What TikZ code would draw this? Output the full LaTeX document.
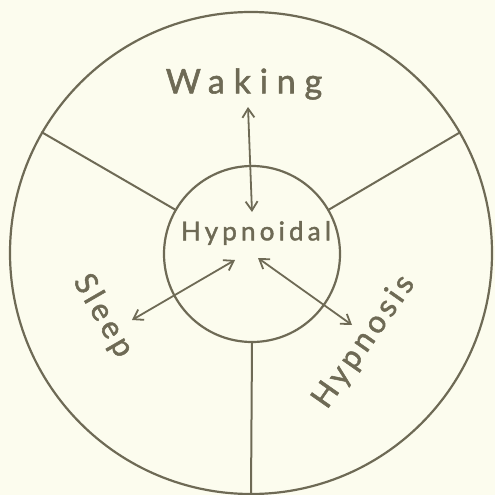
\documentclass[tikz,border=0pt]{standalone}
\usepackage{fontspec}
\usetikzlibrary{arrows.meta}
\newfontfamily\handA[LetterSpace=13,FakeBold=1.6]{Lato}
\newfontfamily\handB[LetterSpace=26,FakeBold=1.6]{Lato}
\newfontfamily\handC[LetterSpace=16,FakeBold=1.6]{Lato}
\definecolor{ink}{HTML}{6E6A55}
\definecolor{paper}{HTML}{FCFCEE}
\tikzset{
  ring/.style={circle,draw=ink,line width=2.2pt,inner sep=0pt},
  spoke/.style={draw=ink,line width=2pt},
  link/.style={draw=ink,line width=1.8pt,{Straight Barb[length=9pt,width=12pt,line width=1.8pt]}-{Straight Barb[length=9pt,width=12pt,line width=1.8pt]}},
  word/.style={text=ink,inner sep=0pt}
}
\begin{document}
\begin{tikzpicture}[x=1pt,y=-1pt]
\fill[paper] (0,0) rectangle (495,495);
\useasboundingbox (0,0) rectangle (495,495);
\node[ring,minimum size=482pt] (outer) at (251,253) {};
\node[ring,minimum size=176pt] (inner) at (252,254) {};
\draw[spoke] (inner.150) -- (outer.150);
\draw[spoke] (inner.30) -- (outer.30);
\draw[spoke] (inner.270) -- (outer.270);
\node[word,font=\handB\fontsize{34}{34}\selectfont] (waking) at (244,84) {Waking};
\node[word,font=\handC\fontsize{26}{26}\selectfont] (hyp) at (256,233) {Hypnoidal};
\node[word,font=\handA\fontsize{31}{31}\selectfont,rotate=-60] (sleep) at (103,316) {Sleep};
\node[word,font=\handA\fontsize{31}{31}\selectfont,rotate=55] (hypnosis) at (364,342) {Hypnosis};
\coordinate (wA) at (248,107);
\coordinate (wB) at (252,212);
\coordinate (sA) at (235,260);
\coordinate (sB) at (132,320);
\coordinate (hA) at (258,258);
\coordinate (hB) at (352,325);
\draw[link] (wA) -- (wB);
\draw[link] (sA) -- (sB);
\draw[link] (hA) -- (hB);
\end{tikzpicture}
\end{document}
